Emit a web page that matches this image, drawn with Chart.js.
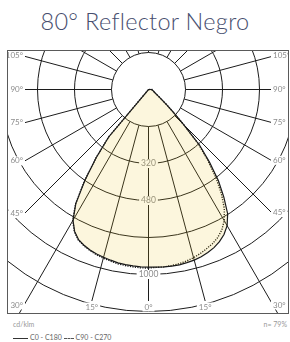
<!DOCTYPE html>
<html><head><meta charset="utf-8">
<script src="https://cdn.jsdelivr.net/npm/chart.js@4.4.1/dist/chart.umd.min.js"></script>
<style>
html,body{margin:0;padding:0;background:#fff;width:290px;height:342px;overflow:hidden;font-family:Lato,'Open Sans',sans-serif;}
#title{position:absolute;left:0;top:5px;width:290px;text-align:center;font-size:23.5px;font-weight:300;color:#474e6e;line-height:32px;letter-spacing:0.3px;white-space:nowrap;}
#box{position:absolute;left:7px;top:50px;width:282px;height:264px;box-sizing:border-box;border:1px solid #5a5a5a;}
#box canvas{display:block;}
.small{position:absolute;font-size:7px;color:#999;line-height:8px;white-space:nowrap;}
#legend{position:absolute;left:13px;top:332px;font-size:7px;color:#666;line-height:10px;white-space:nowrap;}
.sw{display:inline-block;vertical-align:middle;margin-right:2px;}
</style></head><body>
<div id="title">80° Reflector Negro</div>
<div id="box"><canvas id="c" width="280" height="262"></canvas></div>
<div class="small" style="left:13px;top:320px">cd/klm</div>
<div class="small" style="right:3px;top:320px">n= 79%</div>
<div id="legend"></div>
<script>
// gamma angles (degrees) for the half-plane value tables
const gammaDeg = [0,2.5,5,7.5,10,12.5,15,17.5,20,22.5,25,27.5,30,32.5,35,37.5,40,42.5,45,47.5,50,52.5,55,57.5,60,62.5,65,67.5,70,72.5,75,77.5,80,82.5,85,87.5,90];
// luminous intensity, cd/klm
const c0   = [768,769,770,770,770,767,764,758,750,740,726,707,680,637,568,496,410,327,215,145,103,72,57,45,37,32,28,26,24,22,20,19,17,16,15,14,14];
const c180 = [768,768,766,764,761,756,751,746,739,729,716,692,653,585,480,372,268,0,0,0,0,0,0,0,0,0,0,0,0,0,0,0,0,0,0,0,0];
const c90  = [770,770,770,768,765,760,753,744,733,722,707,686,655,610,550,478,398,320,215,145,103,72,57,45,37,32,28,26,24,22,20,19,17,16,15,14,14];
const c270 = [772,772,770,768,765,760,755,749,741,731,718,694,655,588,482,373,268,0,0,0,0,0,0,0,0,0,0,0,0,0,0,0,0,0,0,0,0];
const seriesNames = ['C0 - C180', 'C90 - C270'];
// rings and their printed labels
const ringValues = [160, 320, 480, 640, 800, 960, 1120];
const ringLabels = ['', '320', '480', '', '1000', '', ''];
// labelled gamma directions
const angleLabelDeg = [0, 15, 30, 45, 60, 75, 90, 105];
const angleLabelTxt = ['0°', '15°', '30°', '45°', '60°', '75°', '90°', '105°'];

const STEP = 2.5, N = 144;
const GRID = '#1c1c1c';
const labels = [];
for (let i = 0; i < N; i++) labels.push((i * STEP) + '°');
function lookup(tbl, g) { const k = gammaDeg.indexOf(g); return k >= 0 ? tbl[k] : 0; }
function build(left, right) {
  const out = [];
  for (let i = 0; i < N; i++) {
    const g = i * STEP;
    out.push(g <= 180 ? lookup(left, g) : lookup(right, 360 - g));
  }
  return out;
}

const IN = {left: 16, right: 264, bottom: 250};
function rectHit(s, dx, dy) {
  let t = Infinity, side = null;
  if (dx < -1e-6) { const tt = (IN.left - s.xCenter) / dx; if (tt < t) { t = tt; side = 'left'; } }
  if (dx > 1e-6) { const tt = (IN.right - s.xCenter) / dx; if (tt < t) { t = tt; side = 'right'; } }
  if (dy > 1e-6) { const tt = (IN.bottom - s.yCenter) / dy; if (tt < t) { t = tt; side = 'bottom'; } }
  return {t, side, x: s.xCenter + dx * t, y: s.yCenter + dy * t};
}
function dirOf(s, idx) {
  const p = s.getPointPosition(idx, 1000);
  return {dx: (p.x - s.xCenter) / 1000, dy: (p.y - s.yCenter) / 1000};
}
function labelBox(ctx, txt, x, y, align) {
  ctx.textAlign = align; ctx.textBaseline = 'middle';
  const w = ctx.measureText(txt).width;
  const x0 = align === 'right' ? x - w : align === 'center' ? x - w / 2 : x;
  ctx.fillStyle = '#fff';
  ctx.fillRect(x0 - 2, y - 4.5, w + 4, 9);
  ctx.fillStyle = '#8c8c8c';
  ctx.fillText(txt, x, y);
}

const photometricGrid = {
  id: 'photometricGrid',
  beforeDatasetsDraw(chart) {
    const s = chart.scales.r, ctx = chart.ctx;
    const r1 = s.getDistanceFromCenterForValue(ringValues[0]);
    ctx.save();
    ctx.strokeStyle = GRID; ctx.lineWidth = 1;
    for (let k = 0; k < 24; k++) {
      const g = k * 15, gl = g <= 180 ? g : 360 - g;
      const {dx, dy} = dirOf(s, g / STEP);
      let tEnd = 1000;
      if (angleLabelDeg.indexOf(gl) >= 0 && gl !== 30) tEnd = rectHit(s, dx, dy).t;
      ctx.beginPath();
      ctx.moveTo(s.xCenter + dx * r1, s.yCenter + dy * r1);
      ctx.lineTo(s.xCenter + dx * tEnd, s.yCenter + dy * tEnd);
      ctx.stroke();
    }
    ctx.font = '8.5px Lato, "Open Sans", sans-serif';
    ringValues.forEach((v, i) => {
      if (!ringLabels[i]) return;
      const d = s.getDistanceFromCenterForValue(v);
      labelBox(ctx, ringLabels[i], s.xCenter, s.yCenter + d, 'center');
    });
    ctx.restore();
  },
  afterDatasetsDraw(chart) {
    const s = chart.scales.r, ctx = chart.ctx;
    ctx.save();
    ctx.font = '8px Lato, "Open Sans", sans-serif';
    angleLabelDeg.forEach((g, j) => {
      const sides = g === 0 ? [0] : [g, 360 - g];
      sides.forEach(sg => {
        const {dx, dy} = dirOf(s, sg / STEP);
        const h = rectHit(s, dx, dy);
        const txt = angleLabelTxt[j];
        if (h.side === 'left') labelBox(ctx, txt, h.x - 1, h.y - 0.5, 'right');
        else if (h.side === 'right') labelBox(ctx, txt, h.x + 1, h.y - 0.5, 'left');
        else if (h.x < IN.left + 10) labelBox(ctx, txt, IN.left - 1, h.y + 4, 'right');
        else if (h.x > IN.right - 10) labelBox(ctx, txt, IN.right + 1, h.y + 4, 'left');
        else labelBox(ctx, txt, h.x, h.y + 6, 'center');
      });
    });
    ctx.restore();
  }
};

const chart = new Chart(document.getElementById('c'), {
  type: 'radar',
  data: {
    labels: labels,
    datasets: [
      {label: seriesNames[0], data: build(c180, c0), borderColor: '#1a1a1a', borderWidth: 1.2,
       backgroundColor: 'rgba(235,195,25,0.15)', fill: true, pointRadius: 0, tension: 0, clip: false},
      {label: seriesNames[1], data: build(c270, c90), borderColor: '#1a1a1a', borderWidth: 1.4,
       borderDash: [1.2, 1.3], backgroundColor: 'transparent', fill: false, pointRadius: 0, tension: 0, clip: false}
    ]
  },
  options: {
    responsive: false, animation: false, devicePixelRatio: 1,
    plugins: {legend: {display: false}, tooltip: {enabled: false}},
    layout: {padding: 0},
    scales: {
      r: {
        min: 0, max: ringValues[ringValues.length - 1], startAngle: 180,
        ticks: {display: false, stepSize: 160},
        grid: {circular: true, lineWidth: 1,
               color: c => (c.tick && c.tick.value >= ringValues[ringValues.length - 1]) ? 'rgba(0,0,0,0)' : GRID},
        angleLines: {display: false},
        pointLabels: {display: false},
        afterFit: sc => { sc.xCenter = 140.5; sc.yCenter = 38.5; sc.drawingArea = 259; }
      }
    }
  },
  plugins: [photometricGrid]
});

// legend built from series names
const lg = document.getElementById('legend');
lg.innerHTML = '<span class="sw" style="width:15px;border-top:1px solid #333"></span>' + seriesNames[0] +
  ' <span class="sw" style="width:10px;border-top:1px dashed #555"></span>' + seriesNames[1];
</script>
</body></html>
